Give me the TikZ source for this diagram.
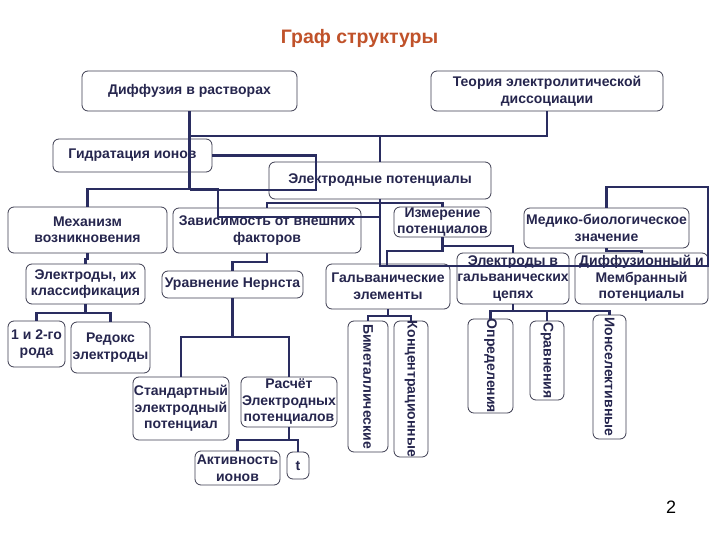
\documentclass[tikz,border=0pt]{standalone}
\usepackage{fontspec}
\usepackage{graphicx}
\setmainfont{Liberation Sans}
\definecolor{txtcol}{RGB}{38,38,78}
\definecolor{boxcol}{RGB}{60,60,80}
\definecolor{linecol}{RGB}{42,45,96}
\definecolor{titlecol}{RGB}{192,82,42}
\tikzset{
  box/.style={draw=boxcol, line width=0.8pt, rounded corners=6pt, fill=white,
    inner sep=0pt, align=center, text=txtcol,
    font=\bfseries\fontsize{14}{16.5}\selectfont},
  conn/.style={draw=linecol, line width=2.2pt}
}
\newcommand{\vtext}[1]{\rotatebox{-90}{#1}}
\begin{document}
\begin{tikzpicture}[x=1pt,y=-1pt]
\fill[white] (0,0) rectangle (720,540);
\useasboundingbox (0,0) rectangle (720,540);
\node[text=titlecol, font=\bfseries\fontsize{19.5}{22}\selectfont] (title) at (359.5,38) {Граф структуры};
\node[font=\fontsize{18}{20}\selectfont] (page) at (671,507) {2};
% boxes
\node[box, minimum width=215, minimum height=40] (diff) at (189.5,91) {Диффузия в растворах};
\node[box, minimum width=232, minimum height=40] (teor) at (547,91) {Теория электролитической\\диссоциации};
\node[box, minimum width=159, minimum height=33] (gidr) at (132.5,155.5) {Гидратация ионов};
\node[box, minimum width=222, minimum height=37] (elpot) at (380,180.5) {Электродные потенциалы};
\node[box, minimum width=159, minimum height=46] (mekh) at (87.5,230) {Механизм\\возникновения};
\node[box, minimum width=188, minimum height=45] (zavis) at (267,230.5) {Зависимость от внешних\\факторов};
\node[box, minimum width=97, minimum height=30] (izmer) at (442.5,222) {Измерение\\потенциалов};
\node[box, minimum width=165, minimum height=40] (medik) at (606.5,228) {Медико-биологическое\\значение};
\node[box, minimum width=119, minimum height=40] (elkl) at (85.5,284) {Электроды, их\\классификация};
\node[box, minimum width=141, minimum height=27] (nernst) at (232.5,284.5) {Уравнение Нернста};
\node[box, minimum width=124, minimum height=45] (galv) at (388,286.5) {Гальванические\\элементы};
\node[box, minimum width=112, minimum height=51] (elcep) at (513,278.5) {Электроды в\\гальванических\\цепях};
\node[box, minimum width=133, minimum height=51] (diffmem) at (641.5,278.5) {Диффузионный и\\Мембранный\\потенциалы};
\node[box, minimum width=57, minimum height=46] (rod) at (36.5,344) {1 и 2-го\\рода};
\node[box, minimum width=79, minimum height=51] (redox) at (110.5,347.5) {Редокс\\электроды};
\node[box, minimum width=96, minimum height=63] (stand) at (181,408.5) {Стандартный\\электродный\\потенциал};
\node[box, minimum width=96, minimum height=50] (rasch) at (289,402) {Расчёт\\Электродных\\потенциалов};
\node[box, minimum width=85, minimum height=34] (aktiv) at (237.5,468) {Активность\\ионов};
\node[box, minimum width=22, minimum height=27] (t) at (298,465.5) {t};
\node[box, minimum width=40, minimum height=131] (bimet) at (368,386.5) {\vtext{Биметаллические}};
\node[box, minimum width=34, minimum height=136] (konc) at (411,389) {\vtext{Концентрационные}};
\node[box, minimum width=45, minimum height=90] (opred) at (490.5,366) {\vtext{Определения}};
\node[box, minimum width=34, minimum height=79] (sravn) at (547,360.5) {\vtext{Сравнения}};
\node[box, minimum width=33, minimum height=124] (ionsel) at (609.5,377) {\vtext{Ионселективные}};
% connectors
\draw[conn] (diff.south) |- (547,136) -- (teor.south);
\draw[conn] (380,136) -- (elpot.north);
\draw[conn] (diff.south) -- (189.5,190);
\draw[conn] (gidr.east) -| (316,190) -- (189.5,190);
\draw[conn] (mekh.north) |- (218,189) -- (218,217) -- (380,217);
\draw[conn] (elpot.south) -- (380,266) -- (708,266) -- (708,187) -- (606.5,187) -- (medik.north);
\draw[conn] (zavis.north) -- (267,203) -- (442.5,203) -- (izmer.north);
\draw[conn] (izmer.south) -- (442.5,251) -- (387,251) -- (387,266);
\draw[conn] (442.5,246) -| (elcep.north);
\draw[conn] (medik.south) -- (606.5,251) -| (diffmem.north);
\draw[conn] (mekh.south) -- (87.5,259) -| (elkl.north);
\draw[conn] (elkl.south) -- (85.5,313);
\draw[conn] (rod.north) |- (85.5,313) -| (redox.north);
\draw[conn] (zavis.south) -- (267,262) -| (nernst.north);
\draw[conn] (nernst.south) -- (232.5,337);
\draw[conn] (stand.north) |- (232.5,337) -| (rasch.north);
\draw[conn] (rasch.south) -- (289,440);
\draw[conn] (aktiv.north) |- (289,440) -| (t.north);
\draw[conn] (galv.south) -- (388,316);
\draw[conn] (bimet.north) |- (388,316) -| (konc.north);
\draw[conn] (elcep.south) -- (513,311);
\draw[conn] (opred.north) |- (513,311) -| (ionsel.north);
\draw[conn] (547,311) -- (sravn.north);
\end{tikzpicture}
\end{document}
